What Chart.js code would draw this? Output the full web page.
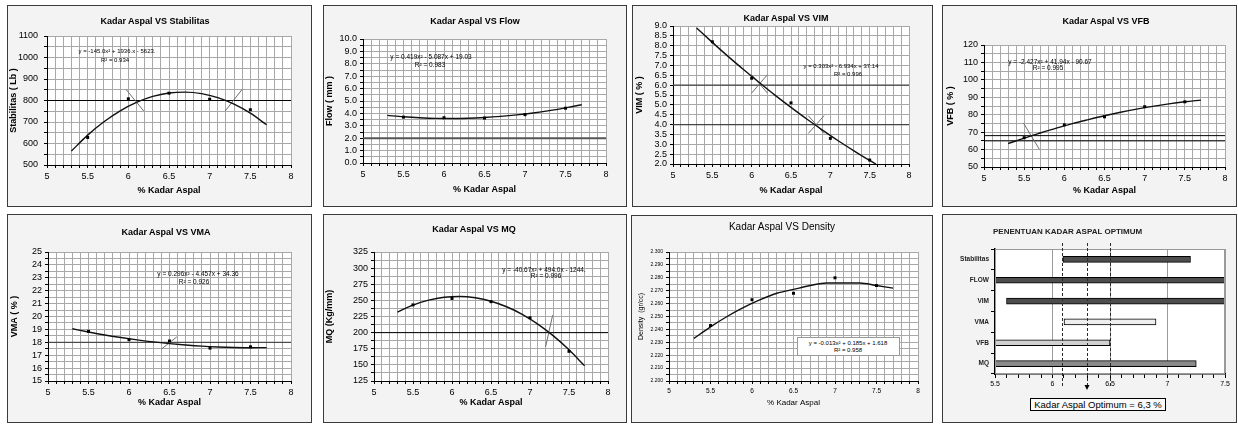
<!DOCTYPE html>
<html>
<head>
<meta charset="utf-8">
<script src="https://cdn.jsdelivr.net/npm/chart.js@4.4.1/dist/chart.umd.min.js"></script>
<style>
  body { margin: 0; background: #fff; width: 1238px; height: 425px; position: relative; overflow: hidden;
         font-family: "Liberation Sans", Arial, Helvetica, sans-serif; }
  .panel { position: absolute; border: 1px solid #3a3a3a; background: #f3f3f3; box-sizing: border-box; }
  .panel canvas { position: absolute; left: 0; top: 0; }
  .txt { position: absolute; white-space: nowrap; transform: translate(-50%, -50%); color: #000; line-height: 1; }
  .eqbox { position: absolute; background: #fff; border: 1px solid #9a9a9a; box-sizing: border-box; }
  .optbox { position: absolute; background: #fafafa; border: 1px solid #000; box-sizing: border-box;
            font-size: 9.5px; line-height: 11px; text-align: center; }
</style>
</head>
<body>
<script>
/* ── data ────────────────────────────────────────────────── */
const kadarAspal = [5.5, 6.0, 6.5, 7.0, 7.5];

const stabilitas = [628, 808, 834, 806, 757];
const flow       = [3.70, 3.65, 3.62, 3.90, 4.42];
const vim        = [8.20, 6.35, 5.10, 3.30, 2.20];
const vfb        = [66.8, 74.2, 78.8, 84.6, 87.4];
const vma        = [18.85, 18.20, 18.10, 17.55, 17.65];
const mq         = [243, 253, 248, 223, 171];
const density    = [2.243, 2.263, 2.268, 2.280, 2.274];

// trend curves, sampled along the drawn curves
const trendX          = [5.3, 5.5, 5.7, 5.9, 6.1, 6.3, 6.5, 6.7, 6.9, 7.1, 7.3, 7.5, 7.7];
const stabilitasTrend = [565, 639, 701, 752, 791, 819, 835, 839, 832, 813, 783, 741, 687];
const flowTrend       = [3.84, 3.73, 3.65, 3.60, 3.59, 3.61, 3.67, 3.76, 3.88, 4.03, 4.22, 4.45, 4.70];
const vimTrendX       = [5.3, 5.5, 5.7, 5.9, 6.1, 6.3, 6.5, 6.7, 6.9, 7.1, 7.3, 7.5, 7.58];
const vimTrend        = [8.90, 8.17, 7.46, 6.78, 6.12, 5.48, 4.87, 4.28, 3.72, 3.18, 2.67, 2.18, 2.00];
const vfbTrend        = [63.4, 66.6, 69.5, 72.3, 74.9, 77.2, 79.4, 81.4, 83.2, 84.8, 86.2, 87.4, 88.4];
const vmaTrend        = [19.05, 18.80, 18.57, 18.37, 18.19, 18.03, 17.90, 17.79, 17.70, 17.64, 17.60, 17.58, 17.59];
const mqTrend         = [231.8, 242.7, 250.4, 254.9, 256.1, 254.0, 248.7, 240.1, 228.3, 213.2, 194.9, 173.3, 148.5];
const densityTrend    = [2.233, 2.242, 2.250, 2.257, 2.263, 2.268, 2.271, 2.274, 2.276, 2.276, 2.276, 2.274, 2.272];

// specification limits (horizontal lines)
const stabilitasLimit = [800];
const flowLimit       = [2.0];
const vimLimit        = [4.0, 6.0];
const vfbLimit        = [65, 68];
const vmaLimit        = [18];
const mqLimit         = [200];

// hand drawn intersection marks: [x1, y1, x2, y2]
const stabilitasCross = [[5.97, 852, 6.19, 751], [7.19, 751, 7.40, 852]];
const vimCross        = [[6.0, 5.60, 6.2, 6.53], [6.0, 6.53, 6.2, 5.60], [6.72, 3.55, 6.92, 4.45], [6.72, 4.45, 6.92, 3.55]];
const vfbCross        = [[5.49, 75.3, 5.69, 60.1]];
const vmaCross        = [[6.40, 17.47, 6.59, 18.42]];
const mqCross         = [[7.20, 178, 7.29, 227]];

// optimum chart
const kriteria     = ['Stabilitas', 'FLOW', 'VIM', 'VMA', 'VFB', 'MQ'];
const rentangAwal  = [6.09, 5.5, 5.6, 6.1, 5.5, 5.5];
const rentangAkhir = [7.2, 7.5, 7.5, 6.9, 6.5, 7.25];
const garisOptimum = [6.08, 6.3, 6.5];
const kadarOptimum = 6.3;

/* ── helpers ─────────────────────────────────────────────── */
const FONT = '"Liberation Sans", Arial, Helvetica, sans-serif';
Chart.defaults.font.family = FONT;
Chart.defaults.color = '#000';
const GRID = '#a8a8a8';

Chart.register({
  id: 'whiteArea',
  beforeDraw(chart) {
    const a = chart.chartArea, ctx = chart.ctx;
    ctx.save();
    ctx.fillStyle = '#fff';
    ctx.fillRect(a.left, a.top, a.right - a.left, a.bottom - a.top);
    ctx.restore();
  }
});

function addText(str, x, y, css) {
  const d = document.createElement('div');
  d.className = 'txt';
  d.textContent = str;
  d.style.left = x + 'px';
  d.style.top = y + 'px';
  Object.assign(d.style, css || {});
  document.body.appendChild(d);
  return d;
}

function buildPanel(box) {
  const div = document.createElement('div');
  div.className = 'panel';
  Object.assign(div.style, { left: box[0] + 'px', top: box[1] + 'px', width: box[2] + 'px', height: box[3] + 'px' });
  const cv = document.createElement('canvas');
  const cw = box[2] - 2, ch = box[3] - 2;
  cv.width = cw; cv.height = ch;
  cv.style.width = cw + 'px'; cv.style.height = ch + 'px';
  div.appendChild(cv);
  document.body.appendChild(div);
  return { cv, ox: box[0] + 1, oy: box[1] + 1, cw, ch };
}

const halfLabel = v => {
  const r = Math.round(v * 10) / 10;
  return Math.abs(r * 2 - Math.round(r * 2)) < 1e-6 ? String(r) : '';
};

function xyChart(p) {
  const { cv, ox, oy, cw, ch } = buildPanel(p.box);
  const L = p.plot[0] - ox, T = p.plot[1] - oy;
  const R = cw - (p.plot[2] - ox), B = ch - (p.plot[3] - oy);
  const yt = p.yTitleFont || 9, xt = p.xTitleFont || 9;

  const datasets = [];
  datasets.push({
    data: kadarAspal.map((x, i) => ({ x, y: p.values[i] })),
    showLine: false, pointStyle: 'rect', pointRadius: 2.1,
    backgroundColor: '#000', borderColor: '#000', borderWidth: 0
  });
  datasets.push({
    data: p.trendX.map((x, i) => ({ x, y: p.trend[i] })),
    showLine: true, borderColor: '#111', borderWidth: 1.4, pointRadius: 0,
    cubicInterpolationMode: 'monotone'
  });
  p.cross.forEach(s => datasets.push({
    data: [{ x: s[0], y: s[1] }, { x: s[2], y: s[3] }],
    showLine: true, borderColor: '#6e6e6e', borderWidth: 1, pointRadius: 0
  }));
  p.limits.forEach(v => datasets.push({
    data: [{ x: 5, y: v }, { x: 8, y: v }],
    showLine: true, borderColor: p.limitColor || '#000', borderWidth: p.limitWidth || 1, pointRadius: 0
  }));

  new Chart(cv, {
    type: 'scatter',
    data: { datasets },
    options: {
      responsive: false, animation: false, events: [],
      layout: { padding: { top: T, right: R, left: 0, bottom: 0 } },
      plugins: { legend: { display: false }, tooltip: { enabled: false } },
      scales: {
        x: {
          type: 'linear', min: 5, max: 8,
          afterFit: s => { s.height = B; },
          ticks: { stepSize: 0.1, autoSkip: false, maxRotation: 0, padding: p.xPad || 3,
                   font: { size: p.xTick || 9 }, callback: halfLabel },
          grid: { color: GRID, lineWidth: 1, tickLength: 3, tickColor: '#000' },
          border: { color: '#000', width: 1 },
          title: { display: true, text: '% Kadar Aspal', font: { size: xt, weight: p.xTitleWeight || 'bold' },
                   padding: { top: 0, bottom: Math.max(0, ch - (p.xTitleY - oy) - xt * 0.6) } }
        },
        y: {
          type: 'linear', min: p.yMin, max: p.yMax,
          afterFit: s => { s.width = L; },
          ticks: { stepSize: p.yGrid, autoSkip: false, padding: p.yPad || 3, font: { size: p.yTick || 9 },
                   callback: v => {
                     const k = Math.round(v / p.yLabel);
                     return Math.abs(v - k * p.yLabel) < p.yLabel * 1e-6 ? (k * p.yLabel).toFixed(p.yDec) : '';
                   } },
          grid: { color: GRID, lineWidth: 1, tickLength: 3, tickColor: '#000' },
          border: { color: '#000', width: 1 },
          title: { display: true, text: p.yTitle, font: { size: yt, weight: p.yTitleWeight || 'bold' },
                   padding: { top: Math.max(0, p.yTitleX - ox - yt * 0.6), bottom: 0 } }
        }
      }
    }
  });

  addText(p.title, p.titlePos[0], p.titlePos[1], { fontSize: (p.titleSize || 9) + 'px', fontWeight: p.titleWeight || 'bold' });
  if (p.eqBox) {
    const b = document.createElement('div');
    b.className = 'eqbox';
    Object.assign(b.style, { left: p.eqBox[0] + 'px', top: p.eqBox[1] + 'px', width: p.eqBox[2] + 'px', height: p.eqBox[3] + 'px' });
    document.body.appendChild(b);
  }
  p.eq.forEach((s, i) => addText(s, p.eqPos[i][0], p.eqPos[i][1], { fontSize: (p.eqSize || 6.5) + 'px' }));
}

/* ── the seven fit charts ────────────────────────────────── */
const panels = [
  { box: [7, 5, 305, 202], plot: [47, 36, 291, 165], title: 'Kadar Aspal VS Stabilitas', titlePos: [155, 21],
    yTitle: 'Stabilitas ( Lb )', yTitleX: 13, xTitleY: 191, yPad: 6,
    yMin: 500, yMax: 1100, yGrid: 50, yLabel: 100, yDec: 0,
    values: stabilitas, trendX: trendX, trend: stabilitasTrend, limits: stabilitasLimit, cross: stabilitasCross,
    eq: ['y = -145.0x² + 1936.x - 5623.', 'R² = 0.934'], eqPos: [[117, 51], [115, 60]], eqSize: 6 },
  { box: [323, 5, 304, 202], plot: [363, 39, 606, 163], title: 'Kadar Aspal VS Flow', titlePos: [475, 21],
    yTitle: 'Flow ( mm )', yTitleX: 330, xTitleY: 190,
    yMin: 0, yMax: 10, yGrid: 0.5, yLabel: 1, yDec: 1,
    values: flow, trendX: trendX, trend: flowTrend, limits: flowLimit, limitColor: '#555', limitWidth: 2, cross: [],
    eq: ['y = 0.419x² - 5.087x + 19.03', 'R² = 0.983'], eqPos: [[431, 57], [430, 65]] },
  { box: [632, 5, 301, 202], plot: [673, 26, 909, 164], title: 'Kadar Aspal VS VIM', titlePos: [786, 18],
    yTitle: 'VIM ( % )', yTitleX: 640, xTitleY: 191,
    yMin: 2, yMax: 9, yGrid: 0.5, yLabel: 0.5, yDec: 1,
    values: vim, trendX: vimTrendX, trend: vimTrend, limits: vimLimit, limitColor: '#444', limitWidth: 1.2, cross: vimCross,
    eq: ['y = 0.303x² - 6.934x + 37.14', 'R² = 0.996'], eqPos: [[841, 66], [848, 74]], eqSize: 6 },
  { box: [942, 5, 295, 202], plot: [984, 45, 1225, 167], title: 'Kadar Aspal VS VFB', titlePos: [1106, 21],
    yTitle: 'VFB ( % )', yTitleX: 951, xTitleY: 191,
    yMin: 50, yMax: 120, yGrid: 5, yLabel: 10, yDec: 0,
    values: vfb, trendX: trendX, trend: vfbTrend, limits: vfbLimit, cross: vfbCross,
    eq: ['y = -2.427x² + 41.94x - 90.67', 'R² = 0.995'], eqPos: [[1050, 62], [1048, 68]] },
  { box: [7, 214, 305, 209], plot: [48, 252, 291, 381], title: 'Kadar Aspal VS VMA', titlePos: [166, 232],
    yTitle: 'VMA ( % )', yTitleX: 15, xTitleY: 403,
    yMin: 15, yMax: 25, yGrid: 0.5, yLabel: 1, yDec: 0,
    values: vma, trendX: trendX, trend: vmaTrend, limits: vmaLimit, limitColor: '#333', cross: vmaCross,
    eq: ['y = 0.296x² - 4.457x + 34.36', 'R² = 0.926'], eqPos: [[198, 274], [194, 282]] },
  { box: [323, 214, 304, 209], plot: [374, 252, 608, 381], title: 'Kadar Aspal VS MQ', titlePos: [474, 229],
    yTitle: 'MQ (Kg/mm)', yTitleX: 329, xTitleY: 403,
    yMin: 125, yMax: 325, yGrid: 12.5, yLabel: 25, yDec: 0,
    values: mq, trendX: trendX, trend: mqTrend, limits: mqLimit, cross: mqCross,
    eq: ['y = -40.67x² + 494.0x - 1244.', 'R² = 0.996'], eqPos: [[544, 270], [546, 276]] },
  { box: [631, 215, 302, 208], plot: [669, 252, 918, 381], title: 'Kadar Aspal VS Density', titlePos: [782, 227],
    titleSize: 10, titleWeight: 'normal',
    yTitle: 'Density  (gr/cc)', yTitleX: 641, xTitleY: 403, yTitleFont: 7, yTitleWeight: 'normal',
    xTitleFont: 8, xTitleWeight: 'normal', yTick: 5, xTick: 6.5,
    yMin: 2.2, yMax: 2.3, yGrid: 0.005, yLabel: 0.01, yDec: 3,
    values: density, trendX: trendX, trend: densityTrend, limits: [], cross: [],
    eqBox: [797, 337, 103, 19],
    eq: ['y = -0.013x² + 0.185x + 1.618', 'R² = 0.958'], eqPos: [[848, 343], [848, 350]], eqSize: 6 }
];
panels.forEach(xyChart);

/* ── optimum asphalt content chart ───────────────────────── */
(function () {
  const box = [942, 214, 295, 209];
  const plot = [995, 249, 1225, 374];
  const { cv, ox, oy, cw, ch } = buildPanel(box);
  const L = plot[0] - ox, T = plot[1] - oy, R = cw - (plot[2] - ox), B = ch - (plot[3] - oy);
  const barColors = ['#4d4d4d', '#4d4d4d', '#4d4d4d', '#eeeeee', '#d0d0d0', '#8a8a8a'];
  const solidGrid = [6, 6.5, 7, 7.5];

  const optimumLines = {
    id: 'optimumLines',
    afterDatasetsDraw(chart) {
      const { ctx, chartArea: a, scales: { x } } = chart;
      ctx.save();
      ctx.strokeStyle = '#999';
      ctx.lineWidth = 1;
      ctx.strokeRect(a.left + 0.5, a.top + 0.5, a.right - a.left - 1, a.bottom - a.top - 1);
      ctx.setLineDash([3, 2]);
      ctx.strokeStyle = '#2a2a2a';
      garisOptimum.forEach(v => {
        const px = Math.round(x.getPixelForValue(v)) + 0.5;
        ctx.beginPath();
        ctx.moveTo(px, a.top - 6);
        ctx.lineTo(px, a.bottom + 12);
        ctx.stroke();
      });
      ctx.setLineDash([]);
      const ax = x.getPixelForValue(kadarOptimum);
      ctx.fillStyle = '#000';
      ctx.beginPath();
      ctx.moveTo(ax - 2.5, a.bottom + 11);
      ctx.lineTo(ax + 2.5, a.bottom + 11);
      ctx.lineTo(ax, a.bottom + 16);
      ctx.closePath();
      ctx.fill();
      ctx.restore();
    }
  };

  new Chart(cv, {
    type: 'bar',
    data: {
      labels: kriteria,
      datasets: [{
        data: kriteria.map((k, i) => [rentangAwal[i], rentangAkhir[i]]),
        backgroundColor: barColors, borderColor: '#000', borderWidth: 1,
        barThickness: 6, borderSkipped: false
      }]
    },
    options: {
      indexAxis: 'y',
      responsive: false, animation: false, events: [],
      layout: { padding: { top: T, right: R, left: 0, bottom: 0 } },
      plugins: { legend: { display: false }, tooltip: { enabled: false } },
      scales: {
        x: {
          type: 'linear', min: 5.5, max: 7.5,
          afterFit: s => { s.height = B; },
          ticks: { stepSize: 0.1, autoSkip: false, maxRotation: 0, padding: 2, font: { size: 7 }, callback: halfLabel },
          grid: {
            color: c => solidGrid.some(g => Math.abs(g - c.tick.value) < 1e-6) ? '#9a9a9a' : 'rgba(0,0,0,0)',
            lineWidth: 1, tickLength: 4, tickColor: '#000'
          },
          border: { color: '#000', width: 1.5 }
        },
        y: {
          afterFit: s => { s.width = L; },
          ticks: { padding: 2, font: { size: 6.5, weight: 'bold' }, color: '#222' },
          grid: { offset: true, color: 'rgba(0,0,0,0)', tickLength: 4, tickColor: '#000' },
          border: { color: '#000', width: 1.5 }
        }
      }
    },
    plugins: [optimumLines]
  });

  addText('PENENTUAN KADAR ASPAL OPTIMUM', 993, 232, { fontSize: '8px', fontWeight: 'bold', transform: 'translate(0,-50%)', color: '#222' });
  const b = document.createElement('div');
  b.className = 'optbox';
  Object.assign(b.style, { left: '1030px', top: '398px', width: '136px', height: '13px' });
  b.textContent = 'Kadar Aspal Optimum = ' + String(kadarOptimum).replace('.', ',') + ' %';
  document.body.appendChild(b);
})();
</script>
</body>
</html>
